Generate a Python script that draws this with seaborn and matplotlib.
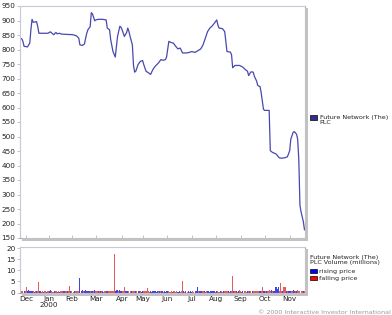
import numpy as np
import pandas as pd
import matplotlib
matplotlib.use("Agg")
import matplotlib.pyplot as plt
from matplotlib.patches import Rectangle
import seaborn as sns

# ---------------- data ----------------
START = "1999-11-23"
END = "2000-11-20"
HOLIDAYS = ["1999-12-27", "1999-12-28", "1999-12-31", "2000-01-03", "2000-04-21",
            "2000-04-24", "2000-05-01", "2000-05-29", "2000-08-28"]
month_labels = ["Dec", "Jan\n2000", "Feb", "Mar", "Apr", "May", "Jun", "Jul",
                "Aug", "Sep", "Oct", "Nov"]
price_ticks = list(range(150, 951, 50))
volume_ticks = [0, 5, 10, 15, 20]

# trading-day index (since 23 Nov 1999) and closing price (pence)
price_day = [0, 2, 3, 4, 7, 9, 10, 11, 12, 15,
             16, 17, 21, 25, 27, 29, 30, 32, 33, 35,
             37, 43, 47, 50, 52, 53, 55, 57, 58, 59,
             60, 62, 63, 64, 66, 67, 69, 73, 76, 77,
             79, 80, 82, 84, 85, 86, 88, 89, 90, 92,
             94, 95, 96, 97, 99, 100, 101, 102, 104, 106,
             108, 109, 111, 113, 115, 117, 119, 122, 124, 126,
             128, 129, 131, 133, 135, 137, 139, 141, 143, 146,
             149, 151, 154, 157, 159, 161, 163, 165, 167, 169,
             171, 173, 174, 175, 178, 180, 181, 182, 185, 186,
             187, 189, 193, 196, 198, 200, 201, 203, 205, 206,
             208, 209, 211, 212, 214, 215, 219, 220, 222, 225,
             228, 230, 233, 235, 237, 238, 240, 241, 243, 244,
             245, 246, 247, 249, 250]
price = [839, 837, 828, 811, 809, 822, 868, 904, 894, 896,
         879, 856, 856, 856, 861, 854, 851, 859, 854, 856,
         853, 852, 851, 847, 839, 816, 814, 819, 839, 856,
         868, 879, 927, 923, 899, 902, 904, 904, 902, 874,
         868, 834, 793, 774, 810, 845, 880, 877, 868, 845,
         859, 874, 862, 845, 816, 745, 722, 725, 748, 759,
         762, 748, 725, 720, 714, 731, 742, 754, 765, 763,
         765, 774, 828, 824, 822, 811, 802, 805, 788, 788,
         790, 793, 790, 797, 802, 816, 839, 862, 874, 881,
         891, 902, 885, 874, 872, 862, 828, 793, 791, 782,
         737, 745, 745, 739, 731, 725, 710, 723, 722, 708,
         691, 676, 672, 651, 594, 590, 590, 451, 445, 440,
         426, 425, 427, 430, 451, 491, 514, 517, 508, 491,
         420, 263, 240, 206, 178]

# daily volume (millions), one per trading day
volume = [0.5, 0.4, 0.6, 0.5, 0.7, 0.5, 2.4, 0.6, 1.1, 0.5,
          0.8, 0.6, 0.5, 0.4, 0.5, 0.6, 0.9, 4.7, 0.6, 0.4,
          0.5, 0.4, 0.6, 0.5, 0.4, 0.5, 0.6, 1.3, 0.5, 0.4,
          0.4, 0.5, 0.6, 0.4, 0.5, 0.4, 0.6, 0.5, 0.9, 0.5,
          0.9, 0.6, 0.5, 0.7, 3.0, 0.6, 0.5, 0.4, 0.6, 0.5,
          0.6, 0.5, 0.7, 6.6, 0.8, 1.3, 0.6, 0.7, 1.0, 0.6,
          0.7, 0.5, 0.8, 0.9, 0.6, 0.5, 1.0, 0.6, 0.7, 0.5,
          0.6, 0.5, 0.6, 0.5, 0.4, 0.5, 0.6, 0.6, 0.7, 0.5,
          0.6, 0.8, 0.7, 17.2, 0.6, 1.3, 1.3, 0.6, 1.0, 0.5,
          0.6, 0.5, 2.3, 0.6, 0.6, 0.5, 0.6, 0.7, 0.5, 0.6,
          0.8, 0.7, 0.6, 0.8, 0.5, 0.6, 0.5, 0.4, 0.6, 0.5,
          0.6, 0.5, 1.9, 0.6, 0.4, 0.5, 0.4, 0.6, 0.5, 0.5,
          0.4, 0.5, 0.6, 0.5, 0.6, 0.5, 0.4, 0.5, 0.4, 0.6,
          0.5, 0.7, 0.4, 0.5, 0.4, 0.6, 0.5, 0.4, 0.5, 0.4,
          0.5, 0.4, 0.6, 5.0, 0.5, 0.4, 0.5, 0.4, 0.5, 0.4,
          0.5, 0.4, 0.5, 0.4, 0.5, 0.6, 2.4, 0.5, 0.8, 0.5,
          0.6, 0.8, 0.5, 0.4, 0.6, 0.5, 0.6, 0.4, 0.5, 0.8,
          0.5, 0.6, 0.4, 0.6, 0.5, 0.4, 0.6, 0.5, 0.4, 0.5,
          0.6, 0.7, 0.6, 0.5, 0.4, 0.5, 0.6, 7.4, 0.6, 0.5,
          0.5, 0.4, 0.6, 1.0, 0.5, 0.4, 0.8, 0.5, 0.6, 0.4,
          0.5, 0.8, 0.5, 0.6, 0.5, 0.6, 0.7, 0.5, 0.6, 0.5,
          0.6, 0.7, 0.6, 2.4, 0.6, 0.6, 0.5, 0.7, 0.5, 1.0,
          0.7, 1.3, 0.6, 0.8, 0.9, 2.4, 1.7, 2.7, 0.8, 4.1,
          0.9, 0.7, 2.7, 2.7, 0.6, 0.5, 0.8, 0.7, 0.8, 0.5,
          1.0, 0.7, 0.6, 0.5, 1.0, 0.8, 0.7, 0.8, 0.6, 0.6,
          0.7]
# R = rising price, F = falling price
direction = ("FFFFRFFRRR" "RRFRFRFFRF" "FRFFRFRRFF" "FRFRFRFFFR" "FFRFFRFFRF"
             "FFFRRRFRRR" "RRFRRFRFFR" "FRFRFFRRFF" "FFFFRRRFRR" "FFFRRRFFRF"
             "FFRFRRFRRF" "FFFFFRRRRR" "RRFRFRFRRR" "RFFFRFFFFR" "RFFFRFRFRF"
             "RRFFRRRFRR" "RFRFFRRRRR" "RRFRFFRFFR" "FFFRFRFFRF" "RFRFFRRFFF"
             "RFRFRFFFFF" "FRFFRRFRFF" "FRFRRRRRFF" "FRFFRFRRRF" "RRFRFFFFFR"
             "F")

series_label = "Future Network (The)\nPLC"
volume_title = "Future Network (The)\nPLC Volume (millions)"
legend_labels = ["rising price", "falling price"]
copyright_text = "\u00a9 2000 Interactive Investor International"

# ---------------- calendar ----------------
trading = pd.bdate_range(START, END, freq="C", holidays=HOLIDAYS)
assert len(trading) == len(volume) == len(direction)
periods = trading.to_period("M")
tick_pos = [i for i in range(1, len(trading)) if periods[i] != periods[i - 1]]

# ---------------- figure ----------------
W, H = 392, 315
sns.set_theme(style="white")
plt.rcParams["font.family"] = ["DejaVu Sans"]
fig = plt.figure(figsize=(W / 100, H / 100), dpi=100)
fig.patch.set_facecolor("white")


def ax_rect(x0, y0, x1, y1):
    return [x0 / W, 1 - y1 / H, (x1 - x0) / W, (y1 - y0) / H]


def shadow(x, y, w, h, color="#c2c2c2"):
    fig.patches.append(Rectangle((x / W, 1 - (y + h) / H), w / W, h / H,
                                 transform=fig.transFigure, facecolor=color,
                                 edgecolor="none", zorder=0))


XL, XR = 19.5, 304.5
ax1 = fig.add_axes(ax_rect(XL, 6, XR, 238))
ax2 = fig.add_axes(ax_rect(XL, 247.3, XR, 292.5))

line_color = "#4848b0"
sns.lineplot(x=price_day, y=price, ax=ax1, color=line_color, linewidth=0.9)
ax1.set_xlim(0, len(trading) - 1)
ax1.set_ylim(150, 950)
ax1.set_yticks(price_ticks)
ax1.set_yticklabels([str(t) for t in price_ticks])
ax1.set_xticks(tick_pos)
ax1.set_xticklabels([])
ax1.tick_params(axis="x", direction="in", length=2.5, width=0.6,
                color="#b8b8c8", bottom=True)
ax1.set_xlabel("")
ax1.set_ylabel("")

vdf = pd.DataFrame({"day": np.arange(len(volume)), "vol": volume,
                    "dir": list(direction)})
sns.barplot(data=vdf, x="day", y="vol", hue="dir", native_scale=True,
            dodge=False, errorbar=None, width=0.95, linewidth=0,
            palette={"R": "#2828ff", "F": "#ff4040"}, legend=False, ax=ax2)
ax2.set_xlim(0, len(trading) - 1)
ax2.set_ylim(0, 20.4)
ax2.set_yticks(volume_ticks)
ax2.set_yticklabels([str(t) for t in volume_ticks])
ax2.set_xticks(tick_pos)
ax2.set_xticklabels(month_labels, linespacing=1.05)
ax2.tick_params(axis="x", length=0, pad=2.6)
ax2.set_xlabel("")
ax2.set_ylabel("")

for ax in (ax1, ax2):
    ax.set_facecolor("white")
    ax.tick_params(axis="y", direction="out", length=2, width=0.6,
                   color="#b8b8c8", pad=1, left=True)
    ax.tick_params(labelsize=5.2, labelcolor="#222222")
    for side in ("left", "top"):
        ax.spines[side].set_color("#c8c8d6")
        ax.spines[side].set_linewidth(0.8)
    for side in ("right", "bottom"):
        ax.spines[side].set_color("#a8a8a8")
        ax.spines[side].set_linewidth(0.8)
    ax.grid(False)

# drop shadows
shadow(XR, 8, 3, 233)
shadow(XL + 2, 238, XR - XL + 1, 3)
shadow(XR, 249.3, 3, 46.2)
shadow(XL + 2, 292.5, XR - XL + 1, 3)

# legends (hand placed to the right)
LFS = 4.6
fig.patches.append(Rectangle((310 / W, 1 - 119.5 / H), 7 / W, 4.5 / H,
                             transform=fig.transFigure, facecolor="#30308c",
                             edgecolor="#000000", linewidth=0.5))
fig.text(319.5 / W, 1 - 114.5 / H, series_label, fontsize=LFS, color="#222222",
         va="top", ha="left", linespacing=1.0)

fig.text(310 / W, 1 - 255 / H, volume_title, fontsize=LFS, color="#222222",
         va="top", ha="left", linespacing=1.0)
for i, (lab, col) in enumerate(zip(legend_labels, ["#0000ff", "#ff0000"])):
    y = 269 + i * 7
    fig.patches.append(Rectangle((310 / W, 1 - (y + 4.3) / H), 7 / W, 4.3 / H,
                                 transform=fig.transFigure, facecolor=col,
                                 edgecolor="#000000", linewidth=0.5))
    fig.text(319.3 / W, 1 - (y + 2.2) / H, lab, fontsize=LFS, color="#222222",
             va="center", ha="left")

fig.text(391 / W, 1 - 312 / H, copyright_text, fontsize=4.6, color="#9a9a9a",
         va="center", ha="right")

fig.savefig("out.png", dpi=100, facecolor="white")
